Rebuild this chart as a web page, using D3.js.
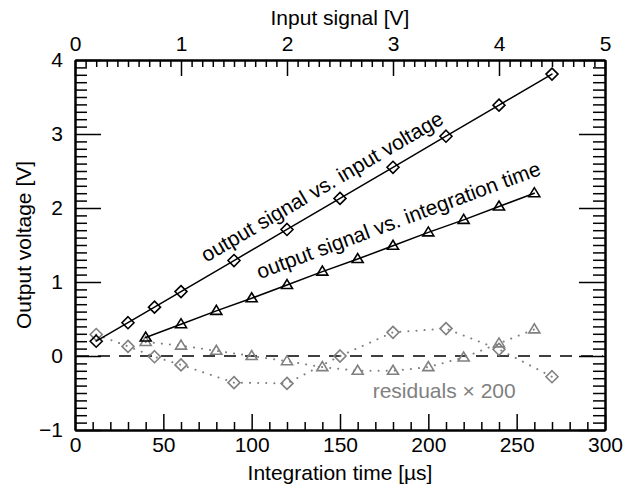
<!DOCTYPE html>
<html>
<head>
<meta charset="utf-8">
<script src="https://cdn.jsdelivr.net/npm/d3@7"></script>
<style>
    body { margin: 0; background: #fff; }
    text { font-family: "Liberation Sans", Arial, Helvetica, sans-serif; }
</style>
</head>
<body>
<svg id="chart" width="631" height="487"></svg>
<script>
// output signal vs. input voltage (diamonds)
var voltIn = [0.2, 0.5, 0.75, 1, 1.5, 2, 2.5, 3, 3.5, 4, 4.5];
var voltOut = [0.20, 0.45, 0.66, 0.87, 1.29, 1.71, 2.13, 2.55, 2.97, 3.39, 3.81];
var voltResid = [0.29, 0.13, -0.01, -0.12, -0.36, -0.37, 0.00, 0.32, 0.37, 0.09, -0.28];

// output signal vs. integration time (triangles)
var timeIn = [40, 60, 80, 100, 120, 140, 160, 180, 200, 220, 240, 260];
var timeOut = [0.25, 0.43, 0.61, 0.78, 0.96, 1.14, 1.31, 1.49, 1.67, 1.84, 2.02, 2.20];
var timeResid = [0.19, 0.14, 0.07, 0.00, -0.07, -0.15, -0.20, -0.20, -0.15, -0.02, 0.17, 0.36];

var xMajor = [0, 50, 100, 150, 200, 250, 300];
var xTopMajor = [0, 1, 2, 3, 4, 5];
var yMajor = [-1, 0, 1, 2, 3, 4];

var svg = d3.select('#chart'),
    mLeft = 75, mRight = 605, mTop = 60, mBottom = 430;

var x = d3.scaleLinear().domain([0, 300]).range([mLeft, mRight]);
var xTop = d3.scaleLinear().domain([0, 5]).range([mLeft, mRight]);
var y = d3.scaleLinear().domain([-1, 4]).range([mBottom, mTop]);

var fs = '21px';
var grey = '#808080';
var fmt = d3.format('d');

function minor(lo, hi, step, majors) {
    return d3.range(Math.round((hi - lo) / step) + 1)
        .map((i) => +(lo + i * step).toFixed(3))
        .filter((v) => majors.indexOf(v) < 0);
}

function styleAxis(g) {
    g.select('.domain').attr('stroke-width', 2);
    g.selectAll('.tick line').attr('stroke-width', 1.5);
    g.selectAll('.tick text').style('font-size', fs).attr('fill', '#000');
}

// bottom
svg.append('g').attr('transform', 'translate(0,' + mBottom + ')')
    .call(d3.axisBottom(x).tickValues(xMajor).tickFormat(fmt).tickSizeInner(-16).tickSizeOuter(0).tickPadding(7))
    .call(styleAxis);
svg.append('g').attr('transform', 'translate(0,' + mBottom + ')')
    .call(d3.axisBottom(x).tickValues(minor(0, 300, 10, xMajor)).tickSizeInner(-8).tickSizeOuter(0).tickFormat(''))
    .call(styleAxis);

// top
svg.append('g').attr('transform', 'translate(0,' + mTop + ')')
    .call(d3.axisTop(xTop).tickValues(xTopMajor).tickFormat(fmt).tickSizeInner(-16).tickSizeOuter(0).tickPadding(9))
    .call(styleAxis);
svg.append('g').attr('transform', 'translate(0,' + mTop + ')')
    .call(d3.axisTop(xTop).tickValues(minor(0, 5, 0.1, xTopMajor)).tickSizeInner(-7).tickSizeOuter(0).tickFormat(''))
    .call(styleAxis);

// left
svg.append('g').attr('transform', 'translate(' + mLeft + ',0)')
    .call(d3.axisLeft(y).tickValues(yMajor).tickFormat(fmt).tickSizeInner(-26).tickSizeOuter(0).tickPadding(12))
    .call(styleAxis);
svg.append('g').attr('transform', 'translate(' + mLeft + ',0)')
    .call(d3.axisLeft(y).tickValues(minor(-1, 4, 0.1, yMajor)).tickSizeInner(-12).tickSizeOuter(0).tickFormat(''))
    .call(styleAxis);

// right
svg.append('g').attr('transform', 'translate(' + mRight + ',0)')
    .call(d3.axisRight(y).tickValues(yMajor).tickSizeInner(-26).tickSizeOuter(0).tickFormat(''))
    .call(styleAxis);
svg.append('g').attr('transform', 'translate(' + mRight + ',0)')
    .call(d3.axisRight(y).tickValues(minor(-1, 4, 0.1, yMajor)).tickSizeInner(-12).tickSizeOuter(0).tickFormat(''))
    .call(styleAxis);

// axis titles
svg.append('text').attr('x', (mLeft + mRight) / 2).attr('y', 25)
    .attr('text-anchor', 'middle').style('font-size', fs).text('Input signal [V]');
svg.append('text').attr('x', (mLeft + mRight) / 2).attr('y', 480)
    .attr('text-anchor', 'middle').style('font-size', fs).text('Integration time [µs]');
svg.append('text').attr('transform', 'translate(31,' + (mTop + mBottom) / 2 + ') rotate(-90)')
    .attr('text-anchor', 'middle').style('font-size', fs).text('Output voltage [V]');

// zero line
svg.append('line')
    .attr('x1', x(0) + 2).attr('x2', x(300) - 2)
    .attr('y1', y(0)).attr('y2', y(0))
    .attr('stroke', '#000').attr('stroke-width', 1.6)
    .attr('stroke-dasharray', '12,9');

var diamond = 'M0,-6L6,0L0,6L-6,0Z';
var triangle = 'M-5.5,3.5L5.5,3.5L0,-5.5Z';

function series(px, vals, sx, shape, color, dotted) {
    var pts = vals.map((v, i) => [sx(px[i]), y(v)]);
    svg.append('path')
        .attr('d', d3.line()(pts))
        .attr('fill', 'none')
        .attr('stroke', color)
        .attr('stroke-width', dotted ? 2 : 1.5)
        .attr('stroke-linecap', 'round')
        .attr('stroke-dasharray', dotted ? '0.1,8' : null);
    svg.append('g').selectAll('path')
        .data(pts)
        .enter()
        .append('path')
        .attr('transform', (d) => 'translate(' + d[0] + ',' + d[1] + ')')
        .attr('d', shape)
        .attr('fill', 'none')
        .attr('stroke', color)
        .attr('stroke-width', 1.6);
}

series(voltIn, voltResid, xTop, diamond, grey, true);
series(timeIn, timeResid, x, triangle, grey, true);
series(voltIn, voltOut, xTop, diamond, '#000', false);
series(timeIn, timeOut, x, triangle, '#000', false);

// labels along the lines
function lineLabel(px, vals, sx, frac, off, txt) {
    var n = vals.length - 1;
    var x0 = sx(px[0]), y0 = y(vals[0]), x1 = sx(px[n]), y1 = y(vals[n]);
    var ang = Math.atan2(y1 - y0, x1 - x0) * 180 / Math.PI;
    var ax = x0 + frac * (x1 - x0), ay = y0 + frac * (y1 - y0);
    svg.append('text')
        .attr('transform', 'translate(' + ax + ',' + ay + ') rotate(' + ang + ') translate(0,' + (-off) + ')')
        .style('font-size', fs)
        .text(txt);
}

lineLabel(voltIn, voltOut, xTop, 0.255, 12, 'output signal vs. input voltage');
lineLabel(timeIn, timeOut, x, 0.307, 15, 'output signal vs. integration time');

svg.append('text')
    .attr('x', x(168.5)).attr('y', y(-0.57))
    .attr('fill', grey)
    .style('font-size', fs)
    .text('residuals × 200');
</script>
</body>
</html>
